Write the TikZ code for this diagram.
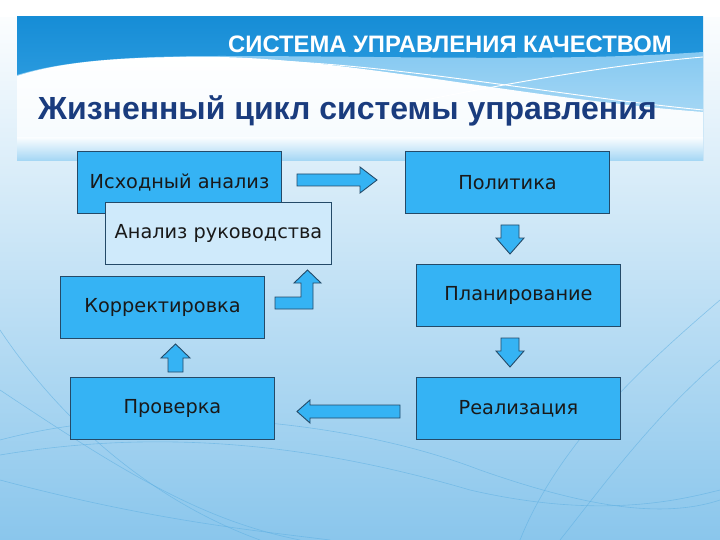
\documentclass[tikz,border=0pt]{standalone}
\usepackage{fontspec}
\setmainfont{DejaVu Sans}
\newfontfamily\hdrfont{Liberation Sans}
\definecolor{boxfill}{HTML}{35B3F4}
\definecolor{boxlight}{HTML}{CFEAFB}
\definecolor{boxline}{HTML}{244A68}
\definecolor{titleblue}{HTML}{1A3C7E}
\definecolor{bandtop}{HTML}{168DD6}
\definecolor{bandmid}{HTML}{45ACE9}
\definecolor{wavelight}{HTML}{86C9F1}
\definecolor{bgbottom}{HTML}{8AC6EC}
\definecolor{bgline}{HTML}{5FB0E2}
\tikzset{
  box/.style={draw=boxline, line width=1pt, fill=boxfill, minimum width=204pt, minimum height=62pt,
    anchor=north west, inner sep=0pt, font=\fontsize{19.3}{21}\selectfont, text=black!90},
  lightbox/.style={box, fill=boxlight, minimum width=226pt},
  blockarrow/.style={draw=boxline, line width=0.9pt, fill=boxfill, line join=miter}
}
\begin{document}
\begin{tikzpicture}[x=1pt,y=-1pt]
\useasboundingbox (0,0) rectangle (720,540);
% background
\shade[top color=white, middle color={white!88!bgbottom}, bottom color=bgbottom] (0,0) rectangle (720,540);
\fill[white] (0,0) rectangle (720,17);
% faint background curves
\begin{scope}[bgline, line width=0.6pt, opacity=0.6]
\draw (0,330) .. controls (60,420) and (150,500) .. (260,540);
\draw (0,440) .. controls (150,400) and (350,420) .. (480,470) .. controls (580,505) and (660,520) .. (720,500);
\draw (0,455) .. controls (150,430) and (300,440) .. (470,490) .. controls (600,520) and (680,500) .. (720,490);
\draw (720,360) .. controls (650,420) and (600,490) .. (560,540);
\draw (720,300) .. controls (650,360) and (560,440) .. (520,540);
\draw (0,480) .. controls (150,520) and (250,530) .. (330,540);
\draw (0,390) .. controls (120,470) and (200,520) .. (300,540);
\end{scope}
% header band
\shade[top color=bandtop, bottom color=bandmid] (17,17) rectangle (703,161);
\shade[top color=wavelight, bottom color=wavelight!55!white] (17,75) .. controls (60,62) and (120,56) .. (220,56) .. controls (400,56) and (560,62) .. (703,52) -- (703,161) -- (17,161) -- cycle;
\shade[top color=white, bottom color=white!94!bandmid] (17,76) .. controls (60,62) and (120,56) .. (220,57) .. controls (360,60) and (520,98) .. (703,112) -- (703,161) -- (17,161) -- cycle;
\shade[top color=white!96!bandmid, bottom color=bandmid!50!white] (17,138) -- (703,138) -- (703,161) -- (17,161) -- cycle;
\draw[white, line width=0.9pt] (250,60) .. controls (400,64) and (550,95) .. (703,110);
\draw[white, line width=0.9pt] (400,105) .. controls (500,85) and (600,66) .. (703,57);
% header texts
\node[anchor=east, text=white, font=\hdrfont\bfseries\fontsize{23.8}{27}\selectfont, inner sep=0pt] (hdr) at (672,44) {СИСТЕМА УПРАВЛЕНИЯ КАЧЕСТВОМ};
\node[anchor=west, text=titleblue, font=\hdrfont\bfseries\fontsize{32}{36}\selectfont, inner sep=0pt] (title) at (38,111) {Жизненный цикл системы управления};
% boxes
\node[box] (ish) at (77,151) {Исходный анализ};
\node[lightbox] (ruk) at (105,202) {Анализ руководства};
\node[box] (pol) at (405,151) {Политика};
\node[box] (plan) at (416,264) {Планирование};
\node[box] (korr) at (60,276) {Корректировка};
\node[box] (prov) at (70,377) {Проверка};
\node[box] (real) at (416,377) {Реализация};
% block arrows
\draw[blockarrow] (297,174) -- (360,174) -- (360,167) -- (377,180) -- (360,193) -- (360,186) -- (297,186) -- cycle;
\draw[blockarrow] (501,225) -- (519,225) -- (519,238) -- (524,238) -- (510,254) -- (496,238) -- (501,238) -- cycle;
\draw[blockarrow] (501,338) -- (519,338) -- (519,351) -- (524,351) -- (510,367) -- (496,351) -- (501,351) -- cycle;
\draw[blockarrow] (400,405) -- (310,405) -- (310,400) -- (297,411.5) -- (310,423) -- (310,418) -- (400,418) -- cycle;
\draw[blockarrow] (168,372) -- (168,358) -- (161,358) -- (175.5,344) -- (190,358) -- (183,358) -- (183,372) -- cycle;
\draw[blockarrow] (275,297) -- (301,297) -- (301,283) -- (294,283) -- (307.5,270) -- (321,283) -- (313,283) -- (313,309) -- (275,309) -- cycle;
\end{tikzpicture}
\end{document}
